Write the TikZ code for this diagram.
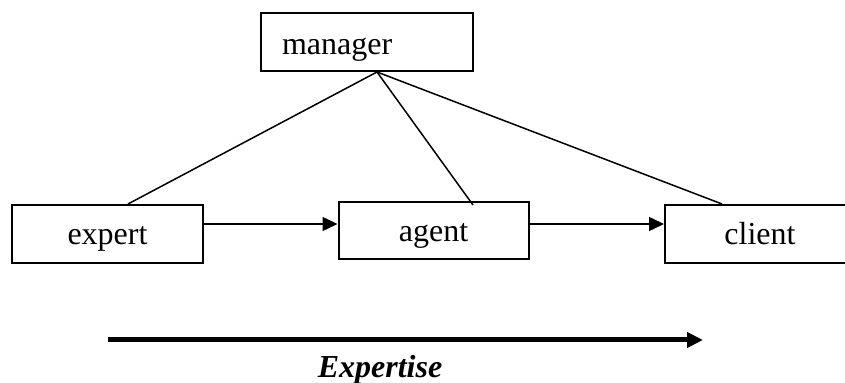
\documentclass[tikz,border=0pt]{standalone}
\usepackage{fontspec}
\setmainfont{Liberation Serif}
\usetikzlibrary{arrows.meta,calc}
\begin{document}
\begin{tikzpicture}[x=0.5pt,y=-0.5pt,
  box/.style={draw, line width=1pt, rectangle, inner sep=0pt, minimum height=29pt,
    font=\fontsize{16}{19}\selectfont, text height=11pt, text depth=0pt},
  link/.style={line width=0.75pt},
  arr/.style={line width=0.75pt, -{Triangle[length=7.5pt,width=7pt]}},
  bigarr/.style={line width=2.5pt, -{Triangle[length=8pt,width=7.5pt]}}]
\useasboundingbox (0,0) rectangle (845,383);
\clip (0,0) rectangle (845,383);
\node[box, minimum width=106pt, text width=85pt, align=left, inner xsep=10.5pt,
  text height=13pt] (manager) at (367,42) {manager};
\node[box, minimum width=95.5pt] (expert) at (107.5,234) {expert};
\node[box, minimum width=95pt, minimum height=28.5pt] (agent) at (433.5,230.5) {agent};
\node[box, minimum width=95pt] (client) at (760,234) {client};
\coordinate (apex) at ($(manager.south)+(10,0)$);
\draw[link] (apex) -- ($(expert.north)+(20.5,0)$);
\draw[link] (apex) -- ($(agent.north)+(39.5,4)$);
\draw[link] (apex) -- ($(client.north)+(-38,0)$);
\draw[arr] ([yshift=5pt]expert.east) -- ([yshift=3.25pt]agent.west);
\draw[arr] ([yshift=3.25pt]agent.east) -- ([yshift=5pt]client.west);
\coordinate (xs) at (108,340);
\coordinate (xe) at (703,340);
\draw[bigarr] (xs) -- (xe);
\node[anchor=base, inner sep=0pt, font=\fontsize{16}{19}\selectfont\bfseries\itshape] (expertise) at (380,378) {Expertise};
\end{tikzpicture}
\end{document}
